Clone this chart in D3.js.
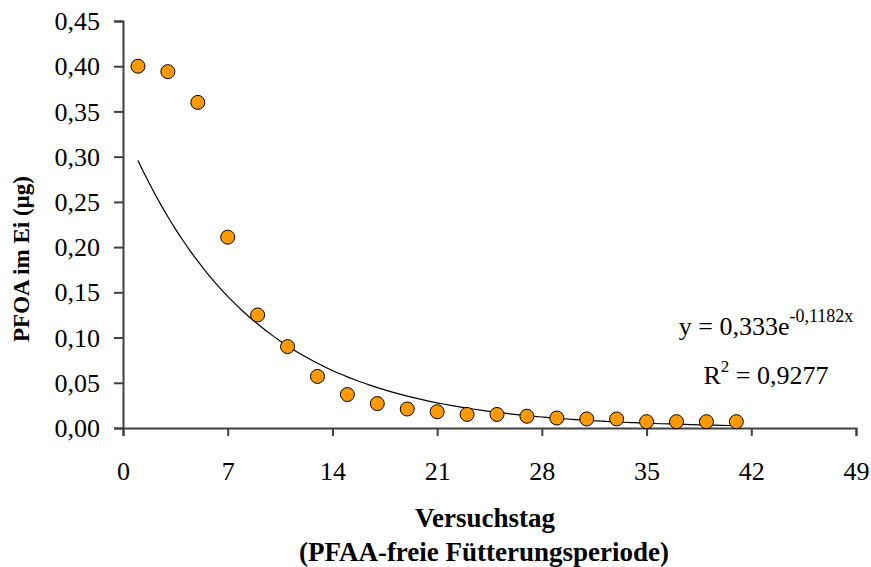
<!DOCTYPE html>
<html>
<head>
<meta charset="utf-8">
<script src="https://cdn.jsdelivr.net/npm/d3@7"></script>
<style>
  html, body { margin: 0; padding: 0; background: #fff; }
  svg { display: block; font-family: "Liberation Serif", "Times New Roman", serif; }
</style>
</head>
<body>
<div id="chart"></div>
<script>
// Versuchstag (days) and PFOA per egg (µg)
const days = [1, 3, 5, 7, 9, 11, 13, 15, 17, 19, 21, 23, 25, 27, 29, 31, 33, 35, 37, 39, 41];
const pfoa = [0.400, 0.394, 0.360, 0.211, 0.125, 0.090, 0.057, 0.037, 0.027, 0.021, 0.018,
              0.015, 0.015, 0.013, 0.011, 0.010, 0.010, 0.007, 0.007, 0.007, 0.007];

// exponential trendline as printed on the chart: y = a * e^(b x)
const trendA = 0.333;
const trendB = -0.1182;
const trendRange = [1, 41];

const xTicks = [0, 7, 14, 21, 28, 35, 42, 49];
const yTicks = [0, 0.05, 0.10, 0.15, 0.20, 0.25, 0.30, 0.35, 0.40, 0.45];

const width = 871, height = 567;
const margin = { top: 21, right: 15, bottom: 139, left: 123 };
const innerW = width - margin.left - margin.right;
const innerH = height - margin.top - margin.bottom;

const fmt = v => d3.format(".2f")(v).replace(".", ",");

const svg = d3.select("#chart").append("svg")
    .attr("width", width)
    .attr("height", height);

svg.append("rect").attr("width", width).attr("height", height).attr("fill", "#fff");

const g = svg.append("g").attr("transform", `translate(${margin.left},${margin.top})`);

const x = d3.scaleLinear().domain([0, 49]).range([0, innerW]);
const y = d3.scaleLinear().domain([0, 0.45]).range([innerH, 0]);

const axisColor = "#404040";

// y axis
const yAxis = g.append("g")
    .call(d3.axisLeft(y).tickValues(yTicks).tickSize(9).tickPadding(14).tickFormat(fmt));
// x axis
const xAxis = g.append("g")
    .attr("transform", `translate(0,${innerH})`)
    .call(d3.axisBottom(x).tickValues(xTicks).tickSize(8).tickPadding(26).tickFormat(d3.format("d")));

[yAxis, xAxis].forEach(ax => {
    ax.select(".domain").attr("stroke", axisColor).attr("stroke-width", 2);
    ax.selectAll(".tick line").attr("stroke", axisColor).attr("stroke-width", 2);
    ax.selectAll(".tick text")
        .attr("fill", "#000")
        .attr("font-family", "\"Liberation Serif\", \"Times New Roman\", serif")
        .attr("font-size", 26);
});
yAxis.selectAll(".tick text").attr("dy", "0.33em");
xAxis.selectAll(".tick text").attr("dy", "0.71em");

// trendline
const trendData = d3.range(trendRange[0], trendRange[1] + 0.001, 0.5)
    .map(d => [d, trendA * Math.exp(trendB * d)]);
g.append("path")
    .datum(trendData)
    .attr("fill", "none")
    .attr("stroke", "#000")
    .attr("stroke-width", 1.2)
    .attr("d", d3.line().x(d => x(d[0])).y(d => y(d[1])).curve(d3.curveMonotoneX));

// points
g.selectAll("circle.pt")
    .data(days.map((d, i) => ({ day: d, v: pfoa[i] })))
    .enter()
    .append("circle")
    .attr("class", "pt")
    .attr("cx", d => x(d.day))
    .attr("cy", d => y(d.v))
    .attr("r", 7)
    .attr("fill", "#FF9900")
    .attr("stroke", "#000")
    .attr("stroke-width", 1);

// equation
const eq = svg.append("text")
    .attr("x", 766)
    .attr("y", 335)
    .attr("text-anchor", "middle")
    .attr("font-size", 26);
eq.append("tspan").text("y = 0,333e");
eq.append("tspan").attr("dy", -13).attr("font-size", 18).text("-0,1182x");

const r2 = svg.append("text")
    .attr("x", 766)
    .attr("y", 384)
    .attr("text-anchor", "middle")
    .attr("font-size", 26);
r2.append("tspan").text("R");
r2.append("tspan").attr("dy", -12).attr("font-size", 17).text("2");
r2.append("tspan").attr("dy", 12).text(" = 0,9277");

// axis titles
svg.append("text")
    .attr("x", 485)
    .attr("y", 527)
    .attr("text-anchor", "middle")
    .attr("font-size", 27)
    .attr("font-weight", "bold")
    .text("Versuchstag");
svg.append("text")
    .attr("x", 484)
    .attr("y", 561)
    .attr("text-anchor", "middle")
    .attr("font-size", 27)
    .attr("font-weight", "bold")
    .text("(PFAA-freie Fütterungsperiode)");

svg.append("text")
    .attr("transform", "translate(29,259) rotate(-90)")
    .attr("text-anchor", "middle")
    .attr("font-size", 23)
    .attr("font-weight", "bold")
    .text("PFOA im Ei (µg)");
</script>
</body>
</html>
